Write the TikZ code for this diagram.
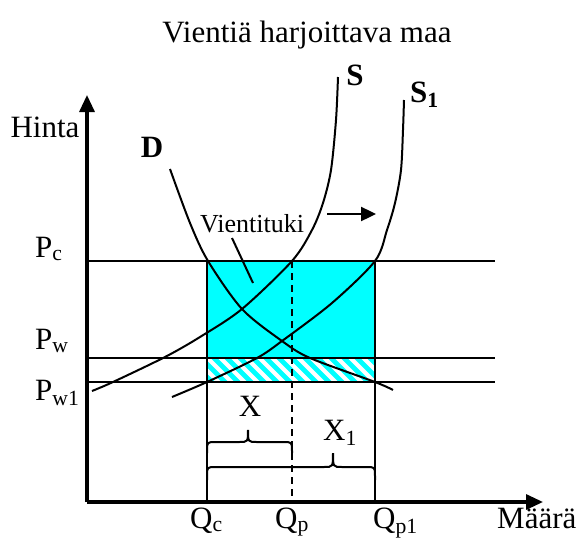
\documentclass[tikz,border=0pt]{standalone}
\usepackage{fontspec}
\setmainfont{Liberation Serif}
\usetikzlibrary{arrows.meta}
\definecolor{aqua}{RGB}{0,255,255}
\begin{document}
\begin{tikzpicture}[x=1pt,y=-1pt,
  thinline/.style={line width=2pt},
  axisline/.style={line width=3.2pt,-{Triangle[length=17pt,width=15pt]}},
  lbl/.style={font=\fontsize{31}{36}\selectfont,inner sep=0pt},
  blbl/.style={font=\fontsize{31}{36}\selectfont\bfseries,inner sep=0pt},
  slbl/.style={font=\fontsize{26}{30}\selectfont,inner sep=0pt},
  curve/.style={line width=2pt},
  dashline/.style={line width=2pt,dash pattern=on 7pt off 5pt},
  bracepath/.style={line width=2pt}]
\useasboundingbox (0,0) rectangle (579,541);
% coordinates
\coordinate (O) at (87,502);
\coordinate (ytip) at (87,95);
\coordinate (xtip) at (543,502);
\coordinate (pcL) at (87,261); \coordinate (pcR) at (495,261);
\coordinate (pwL) at (87,358); \coordinate (pwR) at (495,358);
\coordinate (pw1L) at (87,382); \coordinate (pw1R) at (495,382);
\coordinate (qcT) at (207,261); \coordinate (qcB) at (207,502);
\coordinate (qp1T) at (375,261); \coordinate (qp1B) at (375,502);
\coordinate (qpT) at (292,261); \coordinate (qpB) at (292,502);
% fills
\fill[aqua] (207,261) rectangle (375,358);
\begin{scope}
\clip (207,358) rectangle (375,382);
\foreach \i in {0,...,17} \draw[aqua,line width=4.6pt] (180+\i*13,350) -- ++(40,40);
\end{scope}
% horizontal lines
\draw[thinline] (pcL) -- (pcR);
\draw[thinline] (pwL) -- (pwR);
\draw[thinline] (pw1L) -- (pw1R);
% verticals
\draw[thinline] (qcT) -- (qcB);
\draw[thinline] (qp1T) -- (qp1B);
\draw[dashline] (qpT) -- (qpB);
% curves
\draw[curve] plot[smooth] coordinates {(170,169) (190,223) (208,261) (242,309) (282,341) (310,358) (375,382) (393,390)};
\draw[curve] plot[smooth] coordinates {(92,391) (113,382) (165,357) (200,337) (242,309) (292,261) (312,230) (323,203) (331,170) (336,120) (338,77)};
\draw[curve] plot[smooth] coordinates {(172,397) (207,382) (257,358) (282,341) (332,303) (375,261) (387,230) (395,203) (401,170) (403,130) (404,100)};
% braces
\draw[bracepath] (207,453) -- (207,451) .. controls (207,442) .. (216,442) -- (239,442) .. controls (248,442) .. (248,430)
  .. controls (248,442) .. (257,442) -- (283,442) .. controls (292,442) .. (292,451) -- (292,453);
\draw[bracepath] (207,480) -- (207,476) .. controls (207,467) .. (216,467) -- (324,467) .. controls (333,467) .. (333,453)
  .. controls (333,467) .. (342,467) -- (366,467) .. controls (375,467) .. (375,476) -- (375,480);
% axes
\draw[axisline] (O) -- (ytip);
\draw[axisline] (O) -- (xtip);
% arrow
\coordinate (arS) at (327,214); \coordinate (arE) at (376,214);
\draw[line width=2.4pt,-{Triangle[length=15pt,width=14pt]}] (arS) -- (arE);
% leader
\coordinate (ldA) at (232,238); \coordinate (ldB) at (253,283);
\draw[thinline] (ldA) -- (ldB);
% labels
\node[lbl,anchor=base] (title) at (307,42) {Vientiä harjoittava maa};
\node[lbl,anchor=base] (hinta) at (45,137) {Hinta};
\node[blbl,anchor=base] (dlab) at (152,157) {D};
\node[blbl,anchor=base] (slab) at (355,85) {S};
\node[blbl,anchor=base west] (s1lab) at (410,102) {S\textsubscript{1}};
\node[lbl,anchor=base west] (pc) at (35,257) {P\textsubscript{c}};
\node[lbl,anchor=base west] (pw) at (35,349) {P\textsubscript{w}};
\node[lbl,anchor=base west] (pw1) at (35,400) {P\textsubscript{w1}};
\node[lbl,anchor=base west] (qc) at (190,528) {Q\textsubscript{c}};
\node[lbl,anchor=base west] (qp) at (275,528) {Q\textsubscript{p}};
\node[lbl,anchor=base west] (qp1) at (373,528) {Q\textsubscript{p1}};
\node[lbl,anchor=base west] (maara) at (497,528) {Määrä};
\node[slbl,anchor=base west] (vt) at (200,232) {Vientituki};
\node[lbl,anchor=base] (xl) at (250,416) {X};
\node[lbl,anchor=base west] (x1l) at (323,440) {X\textsubscript{1}};
\end{tikzpicture}
\end{document}
